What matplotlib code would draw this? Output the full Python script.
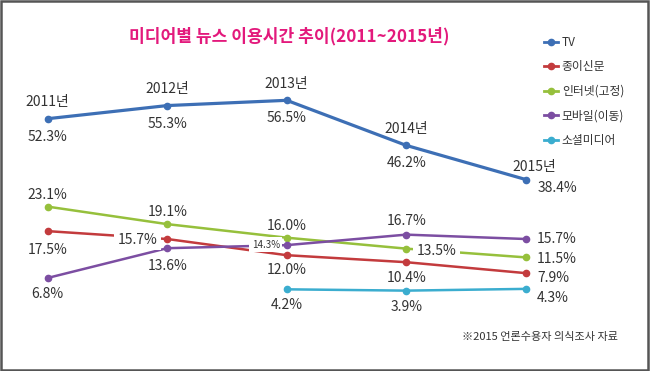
import numpy as np
import matplotlib
matplotlib.use('Agg')
import matplotlib.pyplot as plt
from matplotlib.patches import Rectangle
from matplotlib.lines import Line2D

plt.rcParams['font.family'] = ['Noto Sans CJK KR', 'DejaVu Sans']

# data
years = ['2011년', '2012년', '2013년', '2014년', '2015년']
tv = [52.3, 55.3, 56.5, 46.2, 38.4]
paper = [17.5, 15.7, 12.0, 10.4, 7.9]
internet = [23.1, 19.1, 16.0, 13.5, 11.5]
mobile = [6.8, 13.6, 14.3, 16.7, 15.7]
social = [np.nan, np.nan, 4.2, 3.9, 4.3]
names = ['TV', '종이신문', '인터넷(고정)', '모바일(이동)', '소셜미디어']
colors = ['#3d6fb5', '#c33b3d', '#96c03c', '#7c4ea2', '#3badcf']

x = np.arange(len(years))
PX = 0.72  # pixels -> points at 100 dpi

fig = plt.figure(figsize=(6.5, 3.71), dpi=100)
ax = fig.add_axes([0, 0, 1, 1])
ax2 = ax.twinx()  # TV is drawn on a shifted scale (broken axis look)
for a in (ax, ax2):
    a.set_xlim(-0.399, 5.04)
    a.axis('off')
ax.set_ylim(-14.47, 70.33)
ax2.set_ylim(-5.37, 79.43)

txt = '#333333'


def label(a, xi, yi, s, dx, dy, ha='center', size=10, box=False):
    kw = {}
    if box:
        kw['bbox'] = dict(boxstyle='square,pad=0.25', fc='white', ec='none')
    a.annotate(s, (xi, yi), xytext=(dx * PX, dy * PX), textcoords='offset points',
               ha=ha, va='center', fontsize=size, color=txt, zorder=6, **kw)


lines = []
series = [tv, paper, internet, mobile, social]
for i, (vals, c) in enumerate(zip(series, colors)):
    a = ax2 if i == 0 else ax
    lw = 2.3 if i == 0 else 1.8
    ln, = a.plot(x, vals, color=c, lw=lw, marker='o', ms=4.5, mec=c, mfc=c, zorder=3)
    lines.append(ln)

# TV labels: year above, value below
for xi, v, yr in zip(x[:4], tv[:4], years[:4]):
    label(ax2, xi, v, yr, 0, 16.5)
    label(ax2, xi, v, f'{v}%', 0, -18)
label(ax2, x[4], tv[4], years[4], 9, 13)
label(ax2, x[4], tv[4], f'{tv[4]}%', 11.5, -8, ha='left')

# internet
for xi, v in zip(x[:3], internet[:3]):
    label(ax, xi, v, f'{v}%', 0, 12)
label(ax, x[3], internet[3], f'{internet[3]}%', 30, -2, box=True)
label(ax, x[4], internet[4], f'{internet[4]}%', 11.5, -2, ha='left')

# paper
label(ax, x[0], paper[0], f'{paper[0]}%', 0, -19)
label(ax, x[1], paper[1], f'{paper[1]}%', -30, -0.5, box=True)
label(ax, x[2], paper[2], f'{paper[2]}%', 0, -15)
label(ax, x[3], paper[3], f'{paper[3]}%', 0, -16)
label(ax, x[4], paper[4], f'{paper[4]}%', 11.5, -5, ha='left')

# mobile
label(ax, x[0], mobile[0], f'{mobile[0]}%', 0, -16)
label(ax, x[1], mobile[1], f'{mobile[1]}%', 0, -18)
label(ax, x[2], mobile[2], f'{mobile[2]}%', -21, 0.5, size=7, box=True)
label(ax, x[3], mobile[3], f'{mobile[3]}%', 0, 13.5)
label(ax, x[4], mobile[4], f'{mobile[4]}%', 11.5, 0, ha='left')

# social
label(ax, x[2], social[2], f'{social[2]}%', 0, -16)
label(ax, x[3], social[3], f'{social[3]}%', 0, -16.5)
label(ax, x[4], social[4], f'{social[4]}%', 11.5, -9.5, ha='left')

fig.text(289 / 650, 1 - 36 / 371, '미디어별 뉴스 이용시간 추이(2011~2015년)',
         ha='center', va='center', fontsize=12.3, fontweight='bold', color='#e3197c')
fig.text(540 / 650, 1 - 337 / 371, '※2015 언론수용자 의식조사 자료',
         ha='center', va='center', fontsize=8, color=txt)

handles = [Line2D([], [], color=c, lw=2, marker='o', ms=4.5) for c in colors]
fig.legend(handles, names, loc='upper left', bbox_to_anchor=(544 / 650, 1 - 36 / 371),
           frameon=False, fontsize=8.5, handlelength=1.2, handletextpad=0.3,
           labelspacing=0.97, borderpad=0, borderaxespad=0, labelcolor=txt)

fig.patches.append(Rectangle((0.002, 0.003), 0.995, 0.994, transform=fig.transFigure,
                             fill=False, ec='#555555', lw=1.8))

fig.savefig('out.png', dpi=100)
